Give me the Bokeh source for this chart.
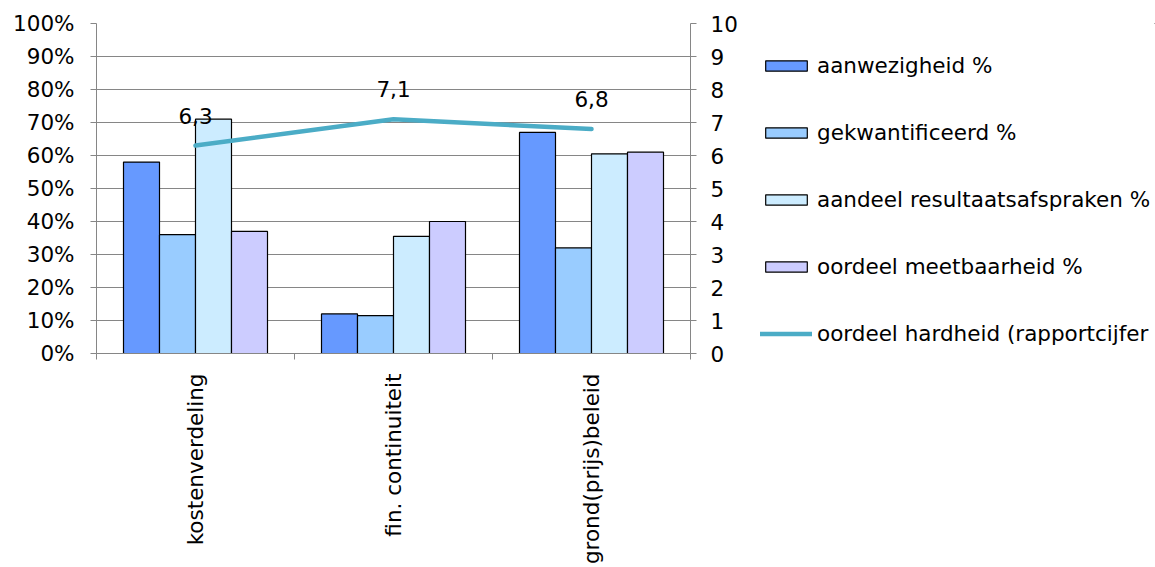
import math
from bokeh.plotting import figure
from bokeh.layouts import row
from bokeh.models import (Range1d, LinearAxis, FixedTicker, NumeralTickFormatter,
                          Legend, LegendItem)
from bokeh.core.properties import value
from bokeh.embed import file_html
from bokeh.resources import INLINE

# ---- data ----
categories = ["kostenverdeling", "fin. continuiteit", "grond(prijs)beleid"]
series_names = ["aanwezigheid %", "gekwantificeerd %",
                "aandeel resultaatsafspraken %", "oordeel meetbaarheid %"]
aanwezigheid = [0.58, 0.12, 0.67]
gekwantificeerd = [0.36, 0.115, 0.32]
aandeel_resultaatsafspraken = [0.71, 0.355, 0.605]
oordeel_meetbaarheid = [0.37, 0.40, 0.61]
line_name = "oordeel hardheid (rapportcijfer"
oordeel_hardheid = [6.3, 7.1, 6.8]
hardheid_labels = ["6,3", "7,1", "6,8"]
pct_ticks = [0.0, 0.1, 0.2, 0.3, 0.4, 0.5, 0.6, 0.7, 0.8, 0.9, 1.0]
score_ticks = [0, 1, 2, 3, 4, 5, 6, 7, 8, 9, 10]

bar_colors = ["#6699FF", "#99CCFF", "#CCECFF", "#CCCCFF"]
line_color = "#4BACC6"
grey = "#868686"
FONT = "DejaVu Sans"
FS = "21.5px"

series_values = [aanwezigheid, gekwantificeerd, aandeel_resultaatsafspraken, oordeel_meetbaarheid]
n = len(categories)
centers = [i + 0.5 for i in range(n)]
bw = 1 / 5.5

p = figure(width=755, height=567, x_range=Range1d(0, n), y_range=Range1d(0, 1),
           output_backend="svg", toolbar_location=None,
           min_border_left=96, min_border_right=65, min_border_top=23, min_border_bottom=214,
           outline_line_color=None, background_fill_color="white", border_fill_color="white")

# x axis
p.xaxis.ticker = FixedTicker(ticks=centers, minor_ticks=list(range(n + 1)))
p.xaxis.major_label_overrides = {c: lab for c, lab in zip(centers, categories)}
p.xaxis.major_label_orientation = math.pi / 2
p.xaxis.major_tick_line_color = None
p.xaxis.major_tick_out = 0
p.xaxis.major_tick_in = 0
p.xaxis.minor_tick_line_color = grey
p.xaxis.minor_tick_out = 6
p.xaxis.minor_tick_in = 0
p.xaxis.axis_line_color = grey
p.xaxis.major_label_standoff = 14
p.xaxis.major_label_text_font = FONT
p.xaxis.major_label_text_font_size = FS
p.xaxis.major_label_text_color = "black"
p.xgrid.visible = False

# left y axis
p.yaxis.ticker = FixedTicker(ticks=pct_ticks)
p.yaxis.formatter = NumeralTickFormatter(format="0%")
p.yaxis.major_tick_out = 6
p.yaxis.major_tick_in = 0
p.yaxis.major_tick_line_color = grey
p.yaxis.minor_tick_line_color = None
p.yaxis.axis_line_color = grey
p.yaxis.major_label_standoff = 16
p.yaxis.major_label_text_font = FONT
p.yaxis.major_label_text_font_size = FS
p.yaxis.major_label_text_color = "black"
p.ygrid.ticker = FixedTicker(ticks=pct_ticks)
p.ygrid.grid_line_color = grey
p.ygrid.grid_line_width = 1

# right y axis
p.extra_y_ranges = {"score": Range1d(0, 10)}
ax2 = LinearAxis(y_range_name="score", ticker=FixedTicker(ticks=score_ticks))
ax2.major_tick_out = 6
ax2.major_tick_in = 0
ax2.major_tick_line_color = grey
ax2.minor_tick_line_color = None
ax2.axis_line_color = grey
ax2.major_label_standoff = 14
ax2.major_label_text_font = FONT
ax2.major_label_text_font_size = FS
ax2.major_label_text_color = "black"
p.add_layout(ax2, "right")

for i, (vals, col) in enumerate(zip(series_values, bar_colors)):
    xs = [c + (i - 1.5) * bw for c in centers]
    p.vbar(x=xs, top=vals, width=bw, fill_color=col, line_color="black", line_width=1.2)

p.line(x=centers, y=oordeel_hardheid, y_range_name="score", line_width=4.5,
       line_color=line_color, line_cap="round", line_join="round")

p.text(x=centers, y=oordeel_hardheid, text=hardheid_labels, y_range_name="score",
       text_align="center", text_baseline="middle", y_offset=-30,
       text_font=value(FONT), text_font_size=FS, text_color="black")

# ---- legend panel (separate figure to the right; its data lies outside its view) ----
lf = figure(width=400, height=567, x_range=Range1d(-20, -19), y_range=Range1d(-20, -19),
            output_backend="svg", toolbar_location=None,
            min_border_left=0, min_border_top=23, min_border_right=0, min_border_bottom=214,
            x_axis_location=None, y_axis_location=None, outline_line_color=None,
            background_fill_color="white", border_fill_color="white")
lf.xgrid.visible = False
lf.ygrid.visible = False

items = []
for i, (name, vals, col) in enumerate(zip(series_names, series_values, bar_colors)):
    xs = [c + (i - 1.5) * bw for c in centers]
    r = lf.vbar(x=xs, top=vals, width=bw, fill_color=col, line_color="black", line_width=1.2)
    items.append(LegendItem(label=name, renderers=[r]))
lr = lf.line(x=centers, y=oordeel_hardheid, line_width=4.5, line_color=line_color, line_cap="round")
items.append(LegendItem(label=line_name, renderers=[lr]))

legend = Legend(items=items, location=(5, 7), border_line_color=None,
                background_fill_alpha=0, label_text_font=FONT, label_text_font_size=FS,
                label_text_color="black", glyph_width=52, glyph_height=13,
                label_standoff=5, label_height=24, spacing=42, padding=0, margin=0)
lf.add_layout(legend)

layout = row(p, lf, spacing=0)
open("out.html", "w").write(file_html(layout, INLINE))
